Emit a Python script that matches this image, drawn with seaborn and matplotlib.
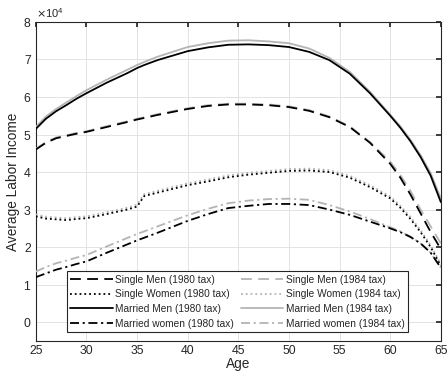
import numpy as np
import pandas as pd
import matplotlib
matplotlib.use("Agg")
import matplotlib.pyplot as plt
import seaborn as sns
from matplotlib.ticker import ScalarFormatter

SCALE = 1e4
ages = [25, 26, 27, 28, 29, 30, 32, 34, 35, 35.7, 37, 40, 42, 44, 46, 48, 50,
        52, 54, 56, 58, 60, 61, 62, 63, 64, 65]

single_men_80 = [4.60, 4.78, 4.90, 4.96, 5.02, 5.07, 5.20, 5.33, 5.40, 5.44, 5.52, 5.68, 5.76, 5.80,
                 5.80, 5.78, 5.73, 5.63, 5.46, 5.20, 4.78, 4.22, 3.85, 3.40, 2.90, 2.40, 1.95]
single_men_84 = [4.62, 4.80, 4.92, 4.98, 5.04, 5.09, 5.22, 5.35, 5.42, 5.46, 5.54, 5.70, 5.78, 5.82,
                 5.82, 5.80, 5.75, 5.65, 5.48, 5.22, 4.80, 4.28, 3.92, 3.50, 3.00, 2.55, 2.10]
single_women_80 = [2.82, 2.76, 2.74, 2.72, 2.75, 2.77, 2.88, 3.00, 3.08, 3.36, 3.45, 3.65, 3.75, 3.86,
                   3.93, 3.98, 4.03, 4.04, 4.00, 3.85, 3.60, 3.30, 3.05, 2.75, 2.40, 2.00, 1.50]
single_women_84 = [2.87, 2.81, 2.79, 2.77, 2.80, 2.82, 2.93, 3.05, 3.13, 3.41, 3.50, 3.70, 3.80, 3.91,
                   3.98, 4.03, 4.08, 4.09, 4.05, 3.90, 3.65, 3.35, 3.10, 2.80, 2.45, 2.05, 1.55]
married_men_80 = [5.15, 5.42, 5.62, 5.78, 5.95, 6.10, 6.38, 6.63, 6.77, 6.85, 6.98, 7.22, 7.32, 7.39,
                  7.40, 7.38, 7.33, 7.20, 6.98, 6.62, 6.10, 5.50, 5.18, 4.82, 4.40, 3.90, 3.20]
married_men_84 = [5.20, 5.48, 5.68, 5.85, 6.02, 6.18, 6.46, 6.72, 6.85, 6.93, 7.07, 7.33, 7.43, 7.50,
                  7.51, 7.48, 7.43, 7.29, 7.04, 6.67, 6.14, 5.53, 5.22, 4.86, 4.45, 3.97, 3.30]
married_women_80 = [1.20, 1.30, 1.40, 1.47, 1.55, 1.62, 1.85, 2.07, 2.18, 2.25, 2.38, 2.70, 2.88, 3.04,
                    3.10, 3.15, 3.15, 3.12, 3.00, 2.86, 2.68, 2.50, 2.40, 2.27, 2.10, 1.85, 1.45]
married_women_84 = [1.35, 1.47, 1.57, 1.64, 1.72, 1.79, 2.02, 2.24, 2.35, 2.42, 2.55, 2.85, 3.02, 3.17,
                    3.24, 3.28, 3.29, 3.26, 3.12, 2.95, 2.75, 2.53, 2.42, 2.28, 2.10, 1.85, 1.45]

labels = ["Single Men (1980 tax)", "Single Women (1980 tax)", "Married Men (1980 tax)",
          "Married women (1980 tax)", "Single Men (1984 tax)", "Single Women (1984 tax)",
          "Married Men (1984 tax)", "Married women (1984 tax)"]
series = [single_men_80, single_women_80, married_men_80, married_women_80,
          single_men_84, single_women_84, married_men_84, married_women_84]

x_ticks = [25, 30, 35, 40, 45, 50, 55, 60, 65]
y_ticks = [0, 1, 2, 3, 4, 5, 6, 7, 8]

sns.set_theme(style="whitegrid")
plt.rcParams['font.family'] = ['Liberation Sans', 'DejaVu Sans']

fig = plt.figure(figsize=(4.48, 3.77), dpi=100)
ax = fig.add_axes([0.080, 0.0955, 0.904, 0.8465])

black = "#000000"
grey = "#b4b4b4"
styles = [(0, (6, 3.5)), ":", "-", (0, (5, 2, 1.2, 2)),
          (0, (6, 3.5)), ":", "-", (0, (5, 2, 1.2, 2))]
colors = [black] * 4 + [grey] * 4
zorders = [4] * 4 + [3] * 4

for lab, vals, ls, col, z in zip(labels, series, styles, colors, zorders):
    df = pd.DataFrame({"Age": ages, "Income": np.array(vals) * SCALE})
    sns.lineplot(data=df, x="Age", y="Income", ax=ax, color=col, linestyle=ls,
                 linewidth=1.3, label=lab, zorder=z)

ax.set_xlim(25, 65)
ax.set_ylim(-0.5 * SCALE, 8 * SCALE)
ax.set_xticks(x_ticks)
ax.set_yticks([t * SCALE for t in y_ticks])
fmt = ScalarFormatter(useMathText=True)
fmt.set_powerlimits((0, 0))
ax.yaxis.set_major_formatter(fmt)
ax.yaxis.get_offset_text().set_fontsize(8)
ax.yaxis.get_offset_text().set_color("#262626")

ax.set_xlabel("Age", fontsize=9.8, color="#262626", labelpad=0)
ax.set_ylabel("Average Labor Income", fontsize=9.8, color="#262626", labelpad=2)
ax.tick_params(axis="both", labelsize=8.8, colors="#262626", direction="in", length=3.5,
               top=True, right=True, pad=3)
ax.grid(True, color="#e3e3e3", linewidth=0.7)
for s in ax.spines.values():
    s.set_color("#262626")
    s.set_linewidth(0.8)

handles, labs = ax.get_legend_handles_labels()
leg = ax.legend(handles, labs, ncol=2, fontsize=7.3, loc="lower left",
                bbox_to_anchor=(0.0765, 0.028, 0.842, 0.198), mode="expand",
                frameon=True, fancybox=False, edgecolor="#262626", framealpha=1,
                handlelength=4.2, handletextpad=0.2, columnspacing=0.6,
                labelspacing=0.45, borderpad=0.35, borderaxespad=0)
leg.get_frame().set_linewidth(0.8)
leg.set_zorder(6)

fig.savefig("out.png", dpi=100)
